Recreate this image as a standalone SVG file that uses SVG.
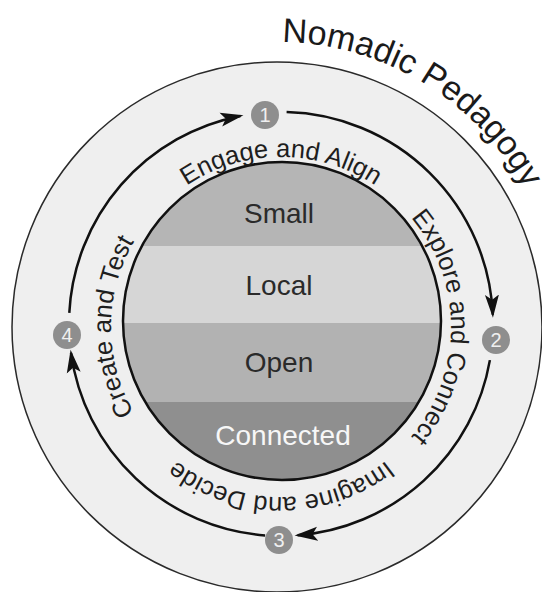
<svg xmlns="http://www.w3.org/2000/svg" width="542" height="592" viewBox="0 0 542 592">
  <style>
    .lbl { font-family: "Liberation Sans", Arial, sans-serif; font-size: 25.5px; fill: #1e1e1e; }
    .band { font-family: "Liberation Sans", Arial, sans-serif; font-size: 28px; fill: #2a2a2a; text-anchor: middle; }
    .title { font-family: "Liberation Sans", Arial, sans-serif; font-size: 34px; fill: #1a1a1a; }
    .num { font-family: "Liberation Sans", Arial, sans-serif; font-size: 20px; fill: #f0f0f0; text-anchor: middle; }
    .dot { fill: #8e8e8e; }
    .arc { fill: none; stroke: #111; stroke-width: 2.5; marker-end: url(#head); }
  </style>
  <defs>
    <marker id="head" markerUnits="userSpaceOnUse" markerWidth="26" markerHeight="18" viewBox="0 0 26 18" refX="20" refY="9" orient="auto">
      <path d="M0,2 L23,9 L0,16 L5,9 z" fill="#111"/>
    </marker>
    <clipPath id="coreClip"><circle cx="282" cy="321" r="159"/></clipPath>
    <path id="tTop" d="M111,327 A170,170 0 0 1 451,327"/>
    <path id="tRight" d="M281,157 A170,170 0 0 1 281,497"/>
    <path id="tBottom" d="M451,327 A170,170 0 0 1 111,327"/>
    <path id="tLeft" d="M281,497 A170,170 0 0 1 281,157"/>
    <path id="tTitle" d="M282,42 A282,282 0 0 1 559,324"/>
  </defs>
  <rect width="542" height="592" fill="#ffffff"/>

  <g id="outer-ring">
    <circle cx="277" cy="327" r="265" fill="#efefef" stroke="#2a2a2a" stroke-width="1.5"/>
  </g>

  <g id="title">
    <text class="title"><textPath href="#tTitle">Nomadic Pedagogy</textPath></text>
  </g>

  <g id="core">
    <g clip-path="url(#coreClip)">
      <rect x="120" y="160" width="325" height="86" fill="#b5b5b5"/>
      <rect x="120" y="246" width="325" height="77" fill="#d6d6d6"/>
      <rect x="120" y="323" width="325" height="79" fill="#b2b2b2"/>
      <rect x="120" y="402" width="325" height="82" fill="#8f8f8f"/>
    </g>
    <circle cx="282" cy="321" r="159" fill="none" stroke="#111" stroke-width="2.5"/>
    <text class="band" x="279" y="223">Small</text>
    <text class="band" x="279" y="295">Local</text>
    <text class="band" x="279" y="372">Open</text>
    <text class="band" x="283" y="445" style="fill:#f7f7f7">Connected</text>
  </g>

  <g id="phase-labels">
    <text class="lbl" text-anchor="middle"><textPath href="#tTop" startOffset="50%">Engage and Align</textPath></text>
    <text class="lbl" text-anchor="middle"><textPath href="#tRight" startOffset="50%">Explore and Connect</textPath></text>
    <text class="lbl" text-anchor="middle"><textPath href="#tBottom" startOffset="50%">Imagine and Decide</textPath></text>
    <text class="lbl" text-anchor="middle"><textPath href="#tLeft" startOffset="50%">Create and Test</textPath></text>
  </g>

  <g id="connectors">
    <path class="arc" d="M69.3,312.9 A212,212 0 0 1 240.5,115.9"/>
    <path class="arc" d="M286.6,112.1 A212,212 0 0 1 492.8,314.8"/>
    <path class="arc" d="M489.9,360.1 A212,212 0 0 1 297.6,535.3"/>
    <path class="arc" d="M265.1,535.4 A212,212 0 0 1 71.0,352.8"/>
  </g>

  <g id="step1"><circle class="dot" cx="265" cy="115" r="14"/><text class="num" x="265" y="122">1</text></g>
  <g id="step2"><circle class="dot" cx="496" cy="340" r="14"/><text class="num" x="496" y="347">2</text></g>
  <g id="step3"><circle class="dot" cx="279" cy="540" r="14"/><text class="num" x="279" y="547">3</text></g>
  <g id="step4"><circle class="dot" cx="67" cy="335" r="14"/><text class="num" x="67" y="342">4</text></g>
</svg>
